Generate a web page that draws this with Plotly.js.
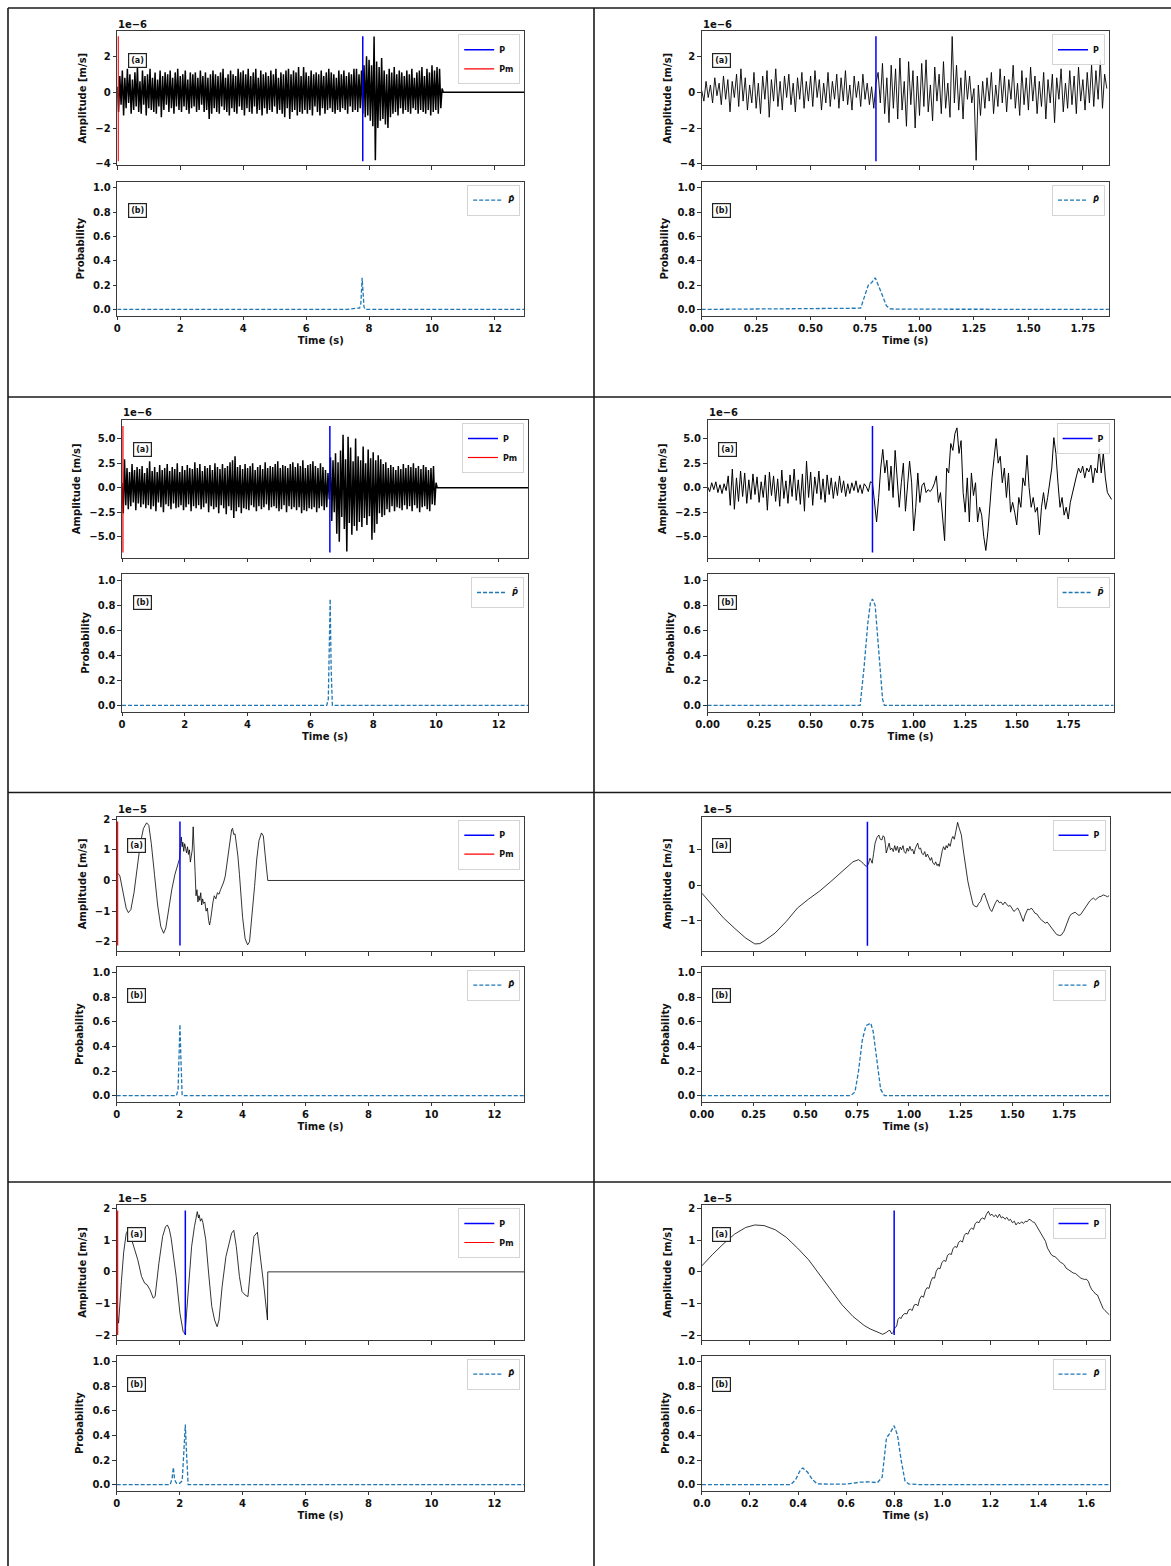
<!DOCTYPE html>
<html><head><meta charset="utf-8">
<script src="https://cdn.plot.ly/plotly-3.0.1.min.js"></script>
<style>html,body{margin:0;padding:0;background:#fff}#chart{width:1171px;height:1566px}</style>
</head><body><div id="chart"></div>
<script>
// ================= DATA (amplitudes in units of the axis exponent) =================
// Row 1 left: dense noise record, sample step 0.04 s
const dt1L = 0.04;
const amp1L = [0.3,-1.1,0.9,-0.7,1.2,-1.3,0.8,-0.9,1.3,-0.6,
1.0,-1.2,0.7,-1.0,1.1,-0.8,1.4,-1.1,0.6,-1.2,
1.2,-0.7,0.9,-1.3,1.0,-0.9,1.3,-1.0,0.8,-1.1,
1.1,-1.2,0.7,-0.8,1.2,-1.4,0.9,-1.0,1.1,-0.7,
1.0,-1.1,1.2,-0.9,0.8,-1.2,1.1,-0.8,1.3,-1.0,
0.9,-1.1,1.0,-0.8,1.2,-1.0,0.7,-1.2,1.1,-0.9,
1.0,-0.8,1.1,-1.1,0.8,-1.0,1.2,-0.7,0.9,-1.1,
1.1,-1.0,0.8,-1.5,1.0,-1.2,1.2,-0.9,1.0,-1.1,
0.9,-1.2,1.1,-0.8,1.3,-1.0,0.8,-1.1,1.0,-1.3,
1.2,-0.9,1.0,-1.1,0.9,-1.2,1.3,-0.8,1.1,-1.0,
1.2,-1.3,1.0,-0.9,1.3,-1.1,0.9,-1.2,1.1,-0.8,
1.3,-1.2,0.8,-1.0,1.2,-1.3,1.0,-0.9,1.1,-1.2,
0.9,-1.0,1.2,-1.1,1.0,-0.8,1.3,-1.2,0.8,-1.0,
1.1,-1.2,1.0,-1.4,1.2,-0.9,1.3,-1.5,1.0,-1.1,
1.2,-1.0,1.1,-1.3,1.4,-1.1,0.9,-1.2,1.4,-1.0,
1.1,-1.2,0.9,-1.0,1.2,-1.3,1.0,-0.8,1.1,-1.1,
1.0,-1.3,1.2,-0.9,0.9,-1.2,1.1,-1.0,1.3,-0.9,
1.1,-1.1,1.0,-1.2,0.8,-1.0,1.2,-1.1,1.0,-0.9,
1.2,-1.0,0.9,-1.2,1.1,-0.8,1.0,-1.1,1.3,-1.0,
1.3,-1.1,1.0,-0.9,1.2,-1.2,1.5,-1.4,2.0,-1.3,
1.8,-1.6,1.5,-1.9,3.1,-3.8,1.7,-2.0,1.4,-1.6,
1.9,-1.5,1.2,-1.8,1.0,-2.0,1.3,-1.4,1.1,-1.2,
1.4,-1.1,1.0,-1.3,1.2,-0.9,1.1,-1.2,0.9,-1.0,
1.2,-1.1,1.0,-1.2,1.3,-0.9,0.8,-1.0,1.1,-1.2,
1.2,-1.0,1.4,-1.1,0.9,-1.2,1.3,-1.0,1.1,-1.3,
1.5,-1.1,1.2,-1.0,1.4,-1.2,1.3,-0.9,0.2];
const padT1L = [10.36, 12.95];
const padV1L = [0, 0];
const probT1L = [0, 7.3, 7.6, 7.7, 7.74, 7.76, 7.78, 7.81, 7.84, 7.88, 12.95];
const probV1L = [0, 0, 0.01, 0.01, 0.05, 0.18, 0.26, 0.14, 0.02, 0, 0];

// Row 1 right: zoom on the pick, sample step 0.01 s
const dt1R = 0.01;
const amp1R = [0.1,-0.5,0.6,-0.3,0.4,-0.6,0.8,-0.2,0.5,-0.7,
0.9,-0.4,0.7,-1.1,0.6,-0.3,1.0,-0.8,1.3,-0.5,
0.8,-1.0,0.4,-0.6,1.1,-0.9,0.5,-1.2,0.9,-0.4,
1.2,-1.4,0.7,-0.5,1.3,-0.8,0.6,-1.0,0.9,-0.3,
1.0,-0.7,0.5,-1.1,0.8,-0.4,1.1,-0.9,0.6,-0.5,
0.9,-0.8,1.2,-0.3,0.7,-1.0,0.5,-0.6,1.1,-0.8,
0.6,-0.4,1.0,-0.9,0.8,-0.5,1.2,-0.7,0.4,-1.0,
0.9,-0.3,0.6,-0.8,1.0,-0.4,0.5,-0.7,0.3,-0.9,
0.5,1.1,-0.6,1.6,-1.2,0.8,-1.7,1.5,-0.9,1.3,
-1.5,1.9,-1.0,0.6,-1.9,1.7,-0.7,1.2,-2.0,0.9,
-1.3,1.6,-0.8,1.8,-1.1,0.4,-1.6,1.4,-0.5,1.0,
-1.2,1.7,-0.9,0.5,-1.4,3.1,-0.6,1.5,-1.0,0.8,
-1.5,1.2,-0.4,0.9,-0.6,0.2,-3.8,0.4,-1.3,0.6,
-0.9,0.8,-0.5,1.1,-1.2,0.4,-0.8,1.3,-0.6,0.9,
-1.1,0.7,-0.4,1.5,-0.9,0.5,-1.3,1.2,-0.7,0.8,
-1.0,1.4,-0.5,0.9,-1.2,0.6,-0.8,1.1,-1.5,0.7,
-0.6,1.0,-1.7,0.8,-0.4,1.3,-1.1,0.5,-0.9,1.2,
-0.7,0.9,-1.2,1.4,-0.5,0.7,-1.0,1.1,-0.6,1.5,
-0.8,1.2,-0.4,1.8,-0.9,1.0,0.2];
const probT1R = [0, 0.35, 0.45, 0.55, 0.7, 0.73, 0.75, 0.765, 0.78, 0.797, 0.822, 0.848, 0.865, 0.9, 1.87];
const probV1R = [0, 0.003, 0.005, 0.003, 0.005, 0.01, 0.12, 0.2, 0.22, 0.26, 0.15, 0.03, 0.005, 0.002, 0];

// Row 2 left: dense noise record, sample step 0.04 s
const dt2L = 0.04;
const amp2L = [0.5,-2.6,2.9,-1.8,2.0,-2.2,1.6,-1.9,2.4,-1.5,
1.8,-2.3,2.1,-1.6,1.9,-2.0,2.2,-1.7,1.5,-2.1,
2.0,-1.8,2.7,-2.2,1.7,-1.9,2.1,-2.4,1.6,-1.5,
2.3,-2.0,1.8,-2.5,2.0,-1.7,2.4,-1.9,1.7,-2.2,
2.1,-1.6,1.9,-2.1,2.5,-2.0,1.6,-1.8,2.2,-2.3,
1.8,-2.0,2.3,-1.7,2.0,-2.4,1.9,-1.9,2.6,-2.1,
2.0,-1.8,2.4,-2.2,1.7,-2.0,2.2,-1.6,2.0,-2.5,
2.3,-1.9,1.8,-2.2,2.5,-2.0,2.1,-2.6,1.9,-1.8,
2.4,-2.1,2.0,-2.7,2.2,-1.9,2.6,-2.3,2.8,-3.1,
3.2,-2.4,2.1,-2.0,2.3,-2.6,1.9,-2.1,2.4,-2.2,
2.0,-2.3,2.2,-1.8,2.5,-2.0,1.8,-2.4,2.1,-1.9,
2.3,-2.2,1.9,-2.0,2.6,-1.7,2.0,-2.3,2.2,-2.0,
2.1,-1.9,2.4,-2.1,2.7,-2.4,2.0,-2.2,2.3,-1.8,
2.2,-2.5,2.0,-1.9,2.4,-2.2,2.6,-2.0,2.1,-2.3,
2.5,-2.0,2.2,-2.6,2.8,-2.3,2.0,-2.4,2.3,-2.1,
2.4,-2.2,2.7,-2.0,2.2,-2.5,2.0,-2.1,2.5,-1.9,
2.1,-2.3,1.8,-2.0,1.5,-1.2,3.1,-3.4,2.8,-2.5,
3.5,-4.7,2.6,-5.5,3.8,-3.0,5.4,-4.2,2.9,-6.5,
5.2,-3.6,4.1,-4.8,2.7,-3.9,5.0,-4.4,3.2,-3.5,
2.8,-4.0,4.2,-3.1,2.5,-3.8,3.9,-2.9,3.0,-5.3,
3.6,-4.6,2.8,-3.7,3.3,-2.6,2.9,-3.0,2.4,-2.8,
2.6,-2.2,2.0,-2.5,2.3,-1.9,2.1,-2.4,1.8,-2.0,
2.2,-2.1,1.9,-2.3,2.4,-1.8,2.0,-2.2,2.3,-1.9,
2.1,-2.4,2.5,-1.8,2.0,-2.1,2.2,-2.5,1.9,-2.0,
2.3,-1.9,2.1,-2.2,1.8,-2.4,2.0,-1.7,2.2,-1.8,
0.5];
const padT2L = [10.04, 12.95];
const padV2L = [0, 0];
const probT2L = [0, 6.52, 6.57, 6.6, 6.63, 6.66, 6.7, 12.95];
const probV2L = [0, 0, 0.05, 0.4, 0.85, 0.3, 0, 0];

// Row 2 right: sample step 0.01 s
const dt2R = 0.01;
const amp2R = [0.1,-0.4,0.5,-0.2,0.6,-0.5,0.3,-0.6,0.4,-0.3,
1.2,-1.8,1.9,-2.2,1.0,-1.4,1.7,-0.9,1.5,-1.6,
0.8,-1.2,1.4,-0.7,1.1,-1.5,0.6,-1.0,1.3,-2.3,
1.6,-0.8,1.2,-1.4,0.9,-1.9,1.8,-1.1,0.7,-1.6,
1.3,-0.9,1.9,-1.3,0.8,-1.7,1.4,-2.4,2.7,-1.0,
1.6,-1.8,1.1,-0.6,1.7,-1.2,0.9,-1.5,1.3,-0.7,
1.0,-1.1,0.6,-0.8,1.2,-0.5,0.7,-0.9,0.4,-0.6,
0.5,-0.3,0.7,-0.5,0.3,-0.6,0.4,0.1,-0.4,0.6,
0.5,-1.7,-3.5,-1.0,2.0,3.9,1.5,2.8,-0.3,2.2,
-1.0,3.8,1.0,-2.0,0.5,2.5,-2.4,0.3,2.7,0.5,
-4.4,-2.0,1.5,-1.5,0.2,0.5,-0.5,-0.2,-0.4,-0.1,
0.4,1.2,-1.5,-0.5,-3.0,-5.4,2.0,1.5,4.5,3.8,
5.5,6.1,3.5,4.8,-0.5,-2.5,1.0,-3.5,1.5,-0.8,
0.5,-3.5,-2.0,-2.8,-5.0,-6.4,-4.5,-1.5,1.0,3.0,
5.0,2.5,3.2,0.5,2.0,-1.0,1.5,-2.5,-1.5,-2.5,
-3.8,-1.0,-2.0,1.0,0.2,3.3,0.0,-2.0,-1.0,-2.5,
-2.0,-4.8,-2.0,-0.5,-2.2,-1.0,0.5,2.0,5.1,3.5,
0.5,-2.0,-1.0,-2.8,-2.0,-3.2,-1.5,-0.5,0.5,1.2,
2.0,1.5,2.2,1.0,2.0,1.6,2.3,0.5,2.0,1.5,
4.0,1.5,3.5,1.0,-0.5,-0.8,-1.2];
const probT2R = [0, 0.74, 0.759, 0.777, 0.79, 0.80, 0.813, 0.831, 0.849, 0.858, 1.97];
const probV2R = [0, 0, 0.3, 0.65, 0.82, 0.85, 0.8, 0.45, 0.05, 0, 0];

// Row 3 left (1e-5)
const t3L = [0,0.05,0.1,0.2,0.3,0.37,0.45,0.55,0.65,0.75,0.85,0.95,1.02,1.1,1.2,1.3,1.4,1.49,1.56,1.65,1.75,1.85,1.95,2.0,2.03,2.05,2.08,2.1,2.13,2.16,2.19,2.22,2.25,2.28,2.31,2.34,2.37,2.4,2.43,2.46,2.49,2.52,2.55,2.58,2.61,2.64,2.67,2.7,2.73,2.76,2.8,2.84,2.88,2.92,2.95,2.98,3.02,3.06,3.1,3.15,3.2,3.25,3.3,3.35,3.4,3.45,3.5,3.55,3.6,3.65,3.68,3.72,3.76,3.8,3.85,3.9,3.95,4.0,4.08,4.16,4.22,4.3,4.38,4.45,4.52,4.6,4.66,4.72,4.78,4.8,12.95];
const v3L = [0.15,0.22,0.15,-0.4,-0.9,-1.05,-0.95,-0.4,0.4,1.2,1.7,1.88,1.8,1.2,0.2,-0.8,-1.5,-1.72,-1.55,-0.9,-0.3,0.2,0.6,0.72,1.1,1.42,1.1,1.25,0.95,1.2,1.05,0.9,1.1,0.85,1.0,0.6,0.8,1.0,1.75,1.2,0.3,-0.5,-0.3,-0.7,-0.5,-0.65,-0.4,-0.8,-0.6,-0.75,-0.7,-1.0,-0.9,-1.3,-1.45,-1.3,-0.9,-0.7,-0.5,-0.6,-0.4,-0.45,-0.3,-0.2,-0.05,0.15,0.55,0.9,1.3,1.65,1.7,1.5,1.52,1.2,0.8,0.2,-0.5,-1.2,-1.9,-2.1,-2.0,-1.2,-0.2,0.7,1.3,1.55,1.45,0.8,0.05,0,0];
const probT3L = [0, 1.9, 1.95, 1.98, 2.01, 2.04, 2.08, 12.95];
const probV3L = [0, 0, 0.05, 0.4, 0.58, 0.3, 0, 0];

// Row 3 right (1e-5)
const t3R = [0,0.05,0.104,0.157,0.211,0.256,0.28,0.30,0.354,0.408,0.462,0.515,0.569,0.623,0.676,0.73,0.757,0.772,0.784,0.795,0.805,0.812,0.818,0.823,0.83,0.837,0.846,0.855,0.862,0.87,0.876,0.882,0.887,0.891,0.898,0.905,0.911,0.918,0.925,0.932,0.938,0.945,0.952,0.958,0.965,0.972,0.978,0.985,0.992,0.998,1.005,1.012,1.018,1.025,1.032,1.038,1.043,1.05,1.057,1.063,1.07,1.077,1.083,1.09,1.097,1.104,1.11,1.117,1.124,1.13,1.137,1.142,1.147,1.155,1.162,1.168,1.175,1.181,1.186,1.193,1.2,1.207,1.213,1.22,1.227,1.232,1.236,1.242,1.248,1.254,1.262,1.269,1.276,1.285,1.294,1.302,1.311,1.32,1.329,1.338,1.347,1.356,1.365,1.374,1.383,1.392,1.401,1.41,1.419,1.428,1.437,1.446,1.455,1.464,1.472,1.481,1.49,1.499,1.508,1.517,1.526,1.535,1.544,1.553,1.562,1.57,1.575,1.584,1.592,1.601,1.61,1.619,1.625,1.634,1.643,1.651,1.66,1.669,1.678,1.687,1.696,1.705,1.714,1.728,1.737,1.75,1.76,1.768,1.777,1.786,1.795,1.804,1.813,1.822,1.83,1.84,1.849,1.857,1.866,1.875,1.884,1.893,1.902,1.911,1.92,1.929,1.94,1.95,1.96,1.968];
const v3R = [-0.23,-0.56,-0.93,-1.22,-1.50,-1.67,-1.66,-1.59,-1.36,-1.03,-0.65,-0.40,-0.17,0.10,0.38,0.66,0.72,0.66,0.58,0.53,0.60,0.76,0.70,0.62,0.90,1.19,1.35,1.42,1.30,1.28,1.40,1.36,1.15,0.91,1.05,1.19,1.00,1.05,0.95,1.12,0.98,1.10,0.92,1.08,1.00,1.12,0.95,0.90,1.05,0.96,1.10,0.98,1.02,0.88,1.05,1.12,1.19,1.02,1.05,0.90,0.86,0.95,0.80,0.88,0.81,0.70,0.78,0.62,0.58,0.66,0.55,0.60,0.53,0.80,0.98,1.09,1.00,1.12,1.05,1.18,1.10,1.30,1.38,1.30,1.55,1.70,1.78,1.65,1.55,1.42,1.05,0.75,0.43,0.12,-0.13,-0.38,-0.56,-0.60,-0.62,-0.52,-0.46,-0.30,-0.23,-0.38,-0.51,-0.68,-0.75,-0.62,-0.50,-0.42,-0.50,-0.48,-0.56,-0.48,-0.55,-0.60,-0.58,-0.68,-0.75,-0.70,-0.65,-0.75,-0.90,-1.03,-0.85,-0.72,-0.68,-0.70,-0.65,-0.72,-0.80,-0.82,-0.89,-0.95,-1.00,-1.03,-1.08,-1.05,-1.12,-1.20,-1.28,-1.36,-1.40,-1.43,-1.42,-1.31,-1.15,-1.00,-0.89,-0.82,-0.80,-0.77,-0.82,-0.86,-0.84,-0.75,-0.68,-0.60,-0.52,-0.45,-0.40,-0.37,-0.42,-0.38,-0.33,-0.32,-0.28,-0.30,-0.33,-0.30];
const probT3R = [0, 0.72, 0.74, 0.757, 0.775, 0.793, 0.805, 0.816, 0.828, 0.846, 0.864, 0.882, 1.97];
const probV3R = [0, 0, 0.03, 0.2, 0.45, 0.57, 0.58, 0.59, 0.52, 0.3, 0.05, 0, 0];

// Row 4 left (1e-5)
const t4L = [0,0.06,0.15,0.22,0.3,0.37,0.45,0.55,0.67,0.79,0.89,0.97,1.06,1.16,1.22,1.34,1.46,1.55,1.61,1.67,1.73,1.89,2.01,2.11,2.17,2.22,2.29,2.38,2.47,2.52,2.56,2.6,2.62,2.66,2.7,2.74,2.83,2.92,3.02,3.11,3.19,3.25,3.35,3.47,3.56,3.65,3.72,3.8,3.9,3.98,4.08,4.17,4.26,4.36,4.47,4.57,4.69,4.79,4.8,12.95];
const v4L = [-1.2,-1.62,-0.3,0.6,1.2,1.35,1.1,0.8,0.38,-0.15,-0.36,-0.41,-0.57,-0.83,-0.78,0.27,1.12,1.42,1.48,1.35,1.06,-0.15,-1.31,-1.88,-1.96,-1.31,-0.25,0.8,1.43,1.7,1.9,1.7,1.8,1.6,1.68,1.55,1.01,-0.04,-1.09,-1.52,-1.73,-1.52,-0.46,0.48,0.85,1.22,1.31,0.8,-0.15,-0.62,-0.73,-0.78,0.17,1.12,1.25,0.48,-0.57,-1.52,0,0];
const probT4L = [0, 1.7, 1.76, 1.8, 1.84, 1.9, 2.0, 2.08, 2.13, 2.18, 2.22, 2.27, 12.95];
const probV4L = [0, 0, 0.05, 0.14, 0.04, 0.01, 0.01, 0.03, 0.25, 0.49, 0.25, 0, 0];

// Row 4 right (1e-5)
const t4R = [0,0.043,0.089,0.136,0.182,0.22,0.259,0.305,0.351,0.398,0.444,0.49,0.536,0.583,0.629,0.675,0.70,0.721,0.74,0.752,0.76,0.768,0.776,0.783,0.79,0.797,0.803,0.81,0.816,0.822,0.829,0.836,0.845,0.853,0.86,0.868,0.875,0.883,0.891,0.899,0.906,0.914,0.922,0.93,0.937,0.945,0.953,0.96,0.968,0.975,0.983,0.991,0.999,1.007,1.015,1.022,1.03,1.038,1.045,1.053,1.061,1.068,1.076,1.084,1.092,1.099,1.107,1.115,1.122,1.13,1.137,1.145,1.153,1.16,1.168,1.176,1.184,1.192,1.2,1.207,1.215,1.223,1.23,1.238,1.246,1.253,1.261,1.269,1.277,1.284,1.292,1.3,1.307,1.315,1.323,1.33,1.338,1.346,1.353,1.361,1.369,1.376,1.384,1.392,1.4,1.407,1.415,1.423,1.43,1.438,1.446,1.454,1.461,1.469,1.477,1.485,1.492,1.5,1.508,1.515,1.523,1.531,1.538,1.546,1.554,1.561,1.569,1.577,1.585,1.592,1.6,1.608,1.615,1.623,1.63,1.638,1.646,1.654,1.661,1.669,1.677,1.685,1.696];
const v4R = [0.19,0.54,0.88,1.19,1.40,1.48,1.46,1.33,1.09,0.75,0.38,-0.09,-0.57,-1.04,-1.41,-1.69,-1.80,-1.88,-1.93,-1.97,-1.95,-1.91,-1.86,-1.85,-1.96,-1.90,-1.76,-1.72,-1.50,-1.44,-1.47,-1.36,-1.31,-1.33,-1.20,-1.18,-1.22,-1.05,-1.02,-1.07,-0.86,-0.76,-0.80,-0.58,-0.50,-0.52,-0.30,-0.18,-0.20,0.02,0.12,0.10,0.30,0.36,0.33,0.52,0.57,0.55,0.74,0.80,0.77,0.93,0.98,0.94,1.15,1.22,1.19,1.33,1.38,1.34,1.52,1.58,1.55,1.66,1.70,1.66,1.82,1.91,1.78,1.82,1.74,1.80,1.71,1.82,1.70,1.74,1.66,1.72,1.62,1.66,1.55,1.60,1.48,1.56,1.52,1.58,1.53,1.60,1.58,1.66,1.63,1.58,1.56,1.45,1.35,1.27,1.17,1.05,0.96,0.75,0.62,0.54,0.50,0.48,0.43,0.36,0.30,0.27,0.22,0.12,0.08,0.04,0.00,-0.04,-0.05,-0.10,-0.15,-0.20,-0.22,-0.24,-0.23,-0.30,-0.45,-0.57,-0.62,-0.70,-0.73,-0.90,-1.05,-1.15,-1.22,-1.28,-1.36];
const probT4R = [0, 0.37, 0.39, 0.41, 0.42, 0.44, 0.46, 0.48, 0.6, 0.66, 0.7, 0.73, 0.75, 0.768, 0.783, 0.8, 0.814, 0.829, 0.845, 0.86, 0.9, 1.696];
const probV4R = [0, 0, 0.04, 0.12, 0.135, 0.1, 0.04, 0.005, 0.003, 0.02, 0.022, 0.015, 0.06, 0.38, 0.42, 0.48, 0.4, 0.2, 0.03, 0.005, 0, 0];

// Pick times and the vertical extent of the pick markers
const pickP = [7.80, 0.80, 6.62, 0.80, 2.01, 0.80, 2.18, 0.80];
const pickPm = 0.03;
const pickSpan = [[-3.85,3.12],[-3.85,3.12],[-6.6,6.3],[-6.6,6.3],[-2.12,1.92],[-1.72,1.80],[-1.99,1.94],[-1.99,1.94]];

// Tick values / labels
const ampTicks1 = [-4,-2,0,2], ampText1 = ['\u22124','\u22122','0','2'];
const ampTicks2 = [-5,-2.5,0,2.5,5], ampText2 = ['\u22125.0','\u22122.5','0.0','2.5','5.0'];
const ampTicks3 = [-2,-1,0,1,2], ampText3 = ['\u22122','\u22121','0','1','2'];
const ampTicks3R = [-1,0,1], ampText3R = ['\u22121','0','1'];
const probTicks = [0,0.2,0.4,0.6,0.8,1.0], probText = ['0.0','0.2','0.4','0.6','0.8','1.0'];
const timeTicksL = [0,2,4,6,8,10,12], timeTextL = ['0','2','4','6','8','10','12'];
const timeTicksR = [0,0.25,0.5,0.75,1.0,1.25,1.5,1.75], timeTextR = ['0.00','0.25','0.50','0.75','1.00','1.25','1.50','1.75'];
const timeTicks4R = [0,0.2,0.4,0.6,0.8,1.0,1.2,1.4,1.6], timeText4R = ['0.0','0.2','0.4','0.6','0.8','1.0','1.2','1.4','1.6'];

// ================= BUILD =================
const W = 1171, H = 1566;
const FONT = 'DejaVu Sans, Arial, sans-serif';
const px = x => x / W;
const py = y => 1 - y / H;
const sampleTimes = (vals, dt) => vals.map((_, i) => Math.round(i * dt * 1e4) / 1e4);

const cells = [
  {x0:117.3,x1:524.2,aT:31.3,aB:165,pT:181.7,pB:315.5, xr:[0,12.93], yr:[-4.06,3.39], yt:ampTicks1, ytt:ampText1, xt:timeTicksL, xtt:timeTextL, exp:'1e\u22126', pm:true,
   t:sampleTimes(amp1L,dt1L).concat(padT1L), v:amp1L.concat(padV1L), pt:probT1L, pv:probV1L, lw:1.5},
  {x0:701.7,x1:1109,aT:31.3,aB:165,pT:181.7,pB:315.5, xr:[0,1.87], yr:[-4.06,3.39], yt:ampTicks1, ytt:ampText1, xt:timeTicksR, xtt:timeTextR, exp:'1e\u22126', pm:false,
   t:sampleTimes(amp1R,dt1R), v:amp1R, pt:probT1R, pv:probV1R, lw:0.9},
  {x0:122,x1:528,aT:420,aB:557.7,pT:574,pB:711.7, xr:[0,12.93], yr:[-7.14,6.9], yt:ampTicks2, ytt:ampText2, xt:timeTicksL, xtt:timeTextL, exp:'1e\u22126', pm:true,
   t:sampleTimes(amp2L,dt2L).concat(padT2L), v:amp2L.concat(padV2L), pt:probT2L, pv:probV2L, lw:1.5},
  {x0:707.6,x1:1113.6,aT:420,aB:557.7,pT:574,pB:711.7, xr:[0,1.97], yr:[-7.14,6.9], yt:ampTicks2, ytt:ampText2, xt:timeTicksR, xtt:timeTextR, exp:'1e\u22126', pm:false,
   t:sampleTimes(amp2R,dt2R), v:amp2R, pt:probT2R, pv:probV2R, lw:1.0},
  {x0:116.7,x1:524.3,aT:816.7,aB:951,pT:966.7,pB:1101.7, xr:[0,12.95], yr:[-2.30,2.08], yt:ampTicks3, ytt:ampText3, xt:timeTicksL, xtt:timeTextL, exp:'1e\u22125', pm:true,
   t:t3L, v:v3L, pt:probT3L, pv:probV3L, lw:0.8},
  {x0:701.9,x1:1109.5,aT:816.7,aB:951,pT:966.7,pB:1101.7, xr:[0,1.97], yr:[-1.87,1.94], yt:ampTicks3R, ytt:ampText3R, xt:timeTicksR, xtt:timeTextR, exp:'1e\u22125', pm:false,
   t:t3R, v:v3R, pt:probT3R, pv:probV3R, lw:0.8},
  {x0:116.7,x1:524.3,aT:1205,aB:1340,pT:1355.7,pB:1490.7, xr:[0,12.95], yr:[-2.15,2.11], yt:ampTicks3, ytt:ampText3, xt:timeTicksL, xtt:timeTextL, exp:'1e\u22125', pm:true,
   t:t4L, v:v4L, pt:probT4L, pv:probV4L, lw:0.8},
  {x0:701.9,x1:1109.5,aT:1205,aB:1340,pT:1355.7,pB:1490.7, xr:[0,1.696], yr:[-2.15,2.11], yt:ampTicks3, ytt:ampText3, xt:timeTicks4R, xtt:timeText4R, exp:'1e\u22125', pm:false,
   t:t4R, v:v4R, pt:probT4R, pv:probV4R, lw:0.8}
];

const traces = [];
const layout = {
  width: W, height: H, autosize: false,
  margin: {l:0, r:0, t:0, b:0},
  paper_bgcolor: '#ffffff', plot_bgcolor: '#ffffff',
  showlegend: true, hovermode: false,
  font: {family: FONT, color: '#111'},
  annotations: [], shapes: []
};
const tickFont = {family: FONT, size: 10, color: '#111', weight: 'bold'};
const titleFont = {family: FONT, size: 10, color: '#111', weight: 'bold'};
const axKey = (n, l) => n === 1 ? l : l + n;
const legKey = n => n === 1 ? 'legend' : 'legend' + n;

function legendAt(x1, top) {
  return {x: px(x1 - 4), xanchor: 'right', y: py(top + 3), yanchor: 'top',
          bgcolor: 'rgba(255,255,255,0.85)', bordercolor: '#d4d4d4', borderwidth: 1,
          font: {family: FONT, size: 8, color: '#111', weight: 'bold'},
          itemwidth: 30, tracegroupgap: 0, orientation: 'v'};
}
function tag(text, x, y) {
  return {xref:'paper', yref:'paper', x:px(x), y:py(y), xanchor:'center', yanchor:'middle',
          text:text, showarrow:false, font:{family:FONT, size:8, color:'#111', weight:'bold'},
          bordercolor:'#222', borderwidth:1.2, borderpad:2, bgcolor:'#fff'};
}

cells.forEach((c, i) => {
  const a = 2 * i + 1, p = 2 * i + 2;
  const axisBase = {showgrid:false, zeroline:false, showline:true, mirror:true, linecolor:'#3a3a3a', linewidth:1.1,
    ticks:'outside', ticklen:3.5, tickwidth:1, tickcolor:'#333'};
  layout[axKey(a, 'xaxis')] = Object.assign({}, axisBase, {domain:[px(c.x0), px(c.x1)], range:c.xr, anchor:axKey(a,'y'),
    tickvals:c.xt, ticktext:c.xtt, showticklabels:false});
  layout[axKey(a, 'yaxis')] = Object.assign({}, axisBase, {domain:[py(c.aB), py(c.aT)], range:c.yr, anchor:axKey(a,'x'),
    tickvals:c.yt, ticktext:c.ytt, tickfont:tickFont, title:{text:'Amplitude [m/s]', font:titleFont, standoff:6}});
  layout[axKey(p, 'xaxis')] = Object.assign({}, axisBase, {domain:[px(c.x0), px(c.x1)], range:c.xr, anchor:axKey(p,'y'),
    tickvals:c.xt, ticktext:c.xtt, tickfont:tickFont, title:{text:'Time (s)', font:titleFont, standoff:3}});
  layout[axKey(p, 'yaxis')] = Object.assign({}, axisBase, {domain:[py(c.pB), py(c.pT)], range:[-0.05,1.05], anchor:axKey(p,'x'),
    tickvals:probTicks, ticktext:probText, tickfont:tickFont, title:{text:'Probability', font:titleFont, standoff:6}});

  layout[legKey(a)] = legendAt(c.x1, c.aT);
  layout[legKey(p)] = legendAt(c.x1, c.pT);

  const xa = axKey(a, 'x'), ya = axKey(a, 'y'), xp = axKey(p, 'x'), yp = axKey(p, 'y');
  traces.push({type:'scatter', mode:'lines', x:c.t, y:c.v, xaxis:xa, yaxis:ya,
    line:{color:'#000', width:c.lw}, showlegend:false, hoverinfo:'skip'});
  traces.push({type:'scatter', mode:'lines', x:[pickP[i], pickP[i]], y:pickSpan[i], xaxis:xa, yaxis:ya,
    line:{color:'#0000ff', width:1.5}, name:'P', legend:legKey(a), showlegend:true});
  if (c.pm) {
    traces.push({type:'scatter', mode:'lines', x:[pickPm, pickPm], y:pickSpan[i], xaxis:xa, yaxis:ya,
      line:{color:'#ff0000', width:1.2}, name:'Pm', legend:legKey(a), showlegend:true});
  }
  traces.push({type:'scatter', mode:'lines', x:c.pt, y:c.pv, xaxis:xp, yaxis:yp,
    line:{color:'#1f77b4', width:1.3, dash:'4px,2px'}, name:'<i>P\u0302</i>', legend:legKey(p), showlegend:true});

  layout.annotations.push({xref:'paper', yref:'paper', x:px(c.x0 - 1), y:py(c.aT - 7), xanchor:'left', yanchor:'middle',
    text:c.exp, showarrow:false, font:{family:FONT, size:10, color:'#111', weight:'bold'}});
  layout.annotations.push(tag('(a)', c.x0 + 20, c.aT + 29));
  layout.annotations.push(tag('(b)', c.x0 + 20, c.pT + 29));
});

// table grid lines around the eight cells
const gridLines = [[8,8,1171,8],[8,8,8,1566],[594,8,594,1566],[8,397,1171,397],[8,792.5,1171,792.5],[8,1182,1171,1182]];
gridLines.forEach(g => layout.shapes.push({type:'line', xref:'paper', yref:'paper',
  x0:px(g[0]), y0:py(g[1]), x1:px(g[2]), y1:py(g[3]), line:{color:'#1a1a1a', width:1.6}}));

Plotly.newPlot('chart', traces, layout, {staticPlot:true, displayModeBar:false});
</script>
</body></html>
